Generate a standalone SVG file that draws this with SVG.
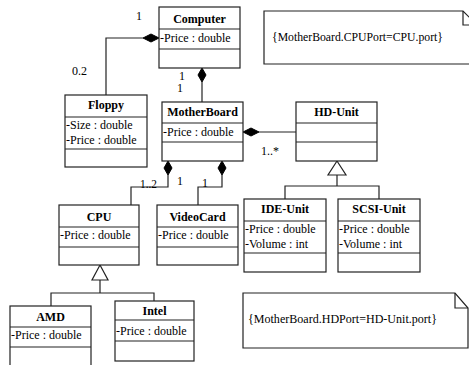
<svg xmlns="http://www.w3.org/2000/svg" width="469" height="365" viewBox="0 0 469 365">
<style>
.box{fill:#fff;stroke:#222;stroke-width:1.2}
.sep{stroke:#222;stroke-width:1.2}
.t{font-family:"Liberation Serif","Times New Roman",serif;font-size:12px;font-weight:bold;text-anchor:middle;fill:#000}
.a{font-family:"Liberation Serif","Times New Roman",serif;font-size:12px;fill:#000}
.lbl{font-family:"Liberation Serif","Times New Roman",serif;font-size:12px;fill:#000}
.ln{fill:none;stroke:#222;stroke-width:1.2}
.dia{fill:#000;stroke:#000;stroke-width:1}
.tri{fill:#fff;stroke:#222;stroke-width:1.2}
</style>
<rect width="469" height="365" fill="#fff"/>
<g id="connectors">
<path class="ln" d="M143,38 H106 V95"/>
<polygon class="dia" points="159,38 151,34 143,38 151,42"/>
<path class="ln" d="M202,82 V102"/>
<polygon class="dia" points="202,68 198,75 202,82 206,75"/>
<path class="ln" d="M168,175 V187 H131 V205"/>
<polygon class="dia" points="168,161 164,168 168,175 172,168"/>
<path class="ln" d="M222,175 V187 H198 V205"/>
<polygon class="dia" points="222,161 218,168 222,175 226,168"/>
<path class="ln" d="M259,132 H296"/>
<polygon class="dia" points="243,132 251,128 259,132 251,136"/>
<path class="ln" d="M337,175 V186 M285,199 V186 H379 V199"/>
<polygon class="tri" points="337,161 328,175 346,175"/>
<path class="ln" d="M100,280 V293 M51,306 V293 H154 V301"/>
<polygon class="tri" points="100,265 92,280 108,280"/>
<text class="lbl" x="136" y="20">1</text>
<text class="lbl" x="72" y="75">0.2</text>
<text class="lbl" x="179" y="80" font-size="10.5">1</text>
<text class="lbl" x="177" y="92" font-size="10.5">1</text>
<text class="lbl" x="140" y="188" textLength="17" lengthAdjust="spacingAndGlyphs">1..2</text>
<text class="lbl" x="177" y="185">1</text>
<text class="lbl" x="202" y="187">1</text>
<text class="lbl" x="261" y="155">1..*</text>
</g>
<g id="Computer">
<rect class="box" x="159" y="7" width="81" height="61"/>
<line class="sep" x1="159" y1="29" x2="240" y2="29"/>
<line class="sep" x1="159" y1="49" x2="240" y2="49"/>
<text class="t" x="199.5" y="23">Computer</text>
<text class="a" x="160" y="42">-Price : double</text>
</g>
<g id="Floppy">
<rect class="box" x="65" y="95" width="82" height="72"/>
<line class="sep" x1="65" y1="117" x2="147" y2="117"/>
<line class="sep" x1="65" y1="149" x2="147" y2="149"/>
<text class="t" x="106" y="109">Floppy</text>
<text class="a" x="66" y="129">-Size : double</text>
<text class="a" x="66" y="144">-Price : double</text>
</g>
<g id="MotherBoard">
<rect class="box" x="162" y="102" width="81" height="59"/>
<line class="sep" x1="162" y1="123" x2="243" y2="123"/>
<line class="sep" x1="162" y1="142" x2="243" y2="142"/>
<text class="t" x="202.5" y="116">MotherBoard</text>
<text class="a" x="163" y="136">-Price : double</text>
</g>
<g id="HD-Unit">
<rect class="box" x="296" y="102" width="81" height="59"/>
<line class="sep" x1="296" y1="123" x2="377" y2="123"/>
<line class="sep" x1="296" y1="142" x2="377" y2="142"/>
<text class="t" x="336.5" y="116">HD-Unit</text>
</g>
<g id="IDE-Unit">
<rect class="box" x="244" y="199" width="82" height="73"/>
<line class="sep" x1="244" y1="221" x2="326" y2="221"/>
<line class="sep" x1="244" y1="253" x2="326" y2="253"/>
<text class="t" x="285" y="213">IDE-Unit</text>
<text class="a" x="245" y="233">-Price : double</text>
<text class="a" x="245" y="248">-Volume : int</text>
</g>
<g id="SCSI-Unit">
<rect class="box" x="338" y="199" width="82" height="73"/>
<line class="sep" x1="338" y1="221" x2="420" y2="221"/>
<line class="sep" x1="338" y1="253" x2="420" y2="253"/>
<text class="t" x="379" y="213">SCSI-Unit</text>
<text class="a" x="339" y="233">-Price : double</text>
<text class="a" x="339" y="248">-Volume : int</text>
</g>
<g id="CPU">
<rect class="box" x="59" y="205" width="80" height="60"/>
<line class="sep" x1="59" y1="227" x2="139" y2="227"/>
<line class="sep" x1="59" y1="247" x2="139" y2="247"/>
<text class="t" x="99" y="221">CPU</text>
<text class="a" x="60" y="239">-Price : double</text>
</g>
<g id="VideoCard">
<rect class="box" x="157" y="205" width="81" height="60"/>
<line class="sep" x1="157" y1="227" x2="238" y2="227"/>
<line class="sep" x1="157" y1="247" x2="238" y2="247"/>
<text class="t" x="197.5" y="221">VideoCard</text>
<text class="a" x="158" y="239">-Price : double</text>
</g>
<g id="AMD">
<rect class="box" x="10" y="306" width="81" height="66"/>
<line class="sep" x1="10" y1="327" x2="91" y2="327"/>
<line class="sep" x1="10" y1="347" x2="91" y2="347"/>
<text class="t" x="50.5" y="321">AMD</text>
<text class="a" x="11" y="339">-Price : double</text>
</g>
<g id="Intel">
<rect class="box" x="115" y="301" width="79" height="60"/>
<line class="sep" x1="115" y1="320" x2="194" y2="320"/>
<line class="sep" x1="115" y1="341" x2="194" y2="341"/>
<text class="t" x="154.5" y="315">Intel</text>
<text class="a" x="116" y="335">-Price : double</text>
</g>
<g id="note-cpu">
<path class="box" d="M264,11 H463 L477,25 V64 H264 Z"/>
<path class="ln" d="M463,11 V25 H477"/>
<text class="a" x="272" y="41" textLength="171" lengthAdjust="spacingAndGlyphs">{MotherBoard.CPUPort=CPU.port}</text>
</g>
<g id="note-hd">
<path class="box" d="M243,293 H455 L468,308 V348 H243 Z"/>
<path class="ln" d="M455,293 V308 H468"/>
<text class="a" x="248" y="323" textLength="189" lengthAdjust="spacingAndGlyphs">{MotherBoard.HDPort=HD-Unit.port}</text>
</g>
</svg>
